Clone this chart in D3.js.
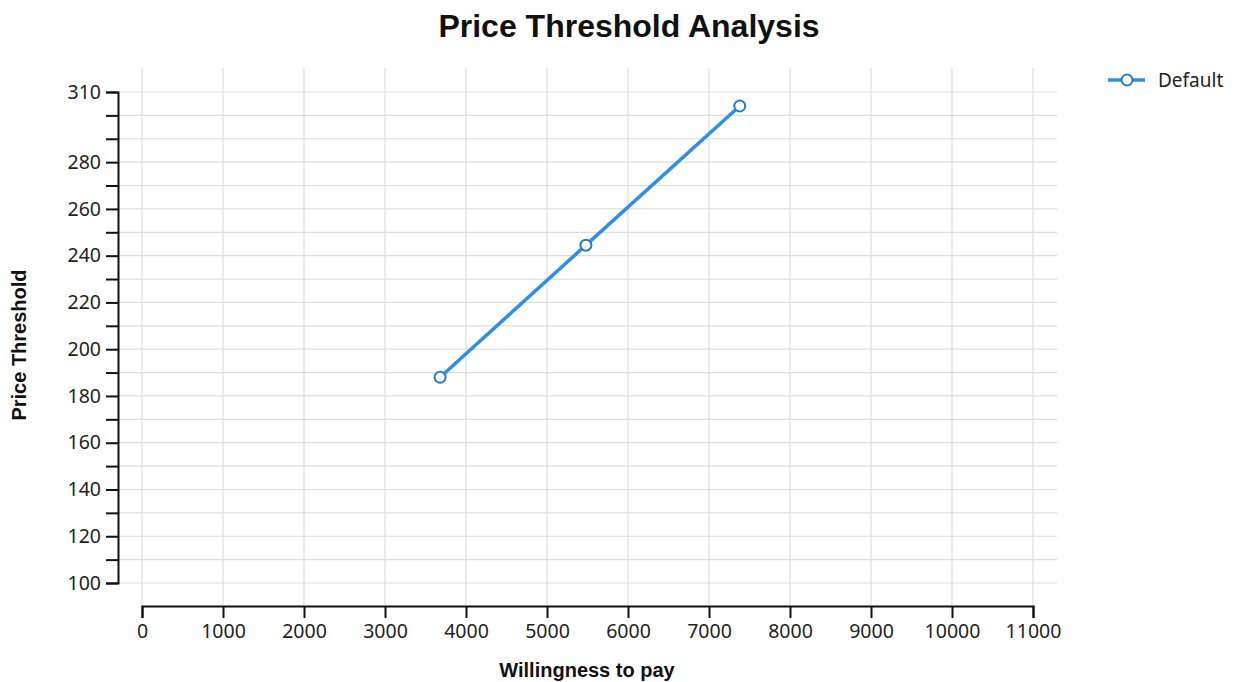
<!DOCTYPE html>
<html>
<head>
<meta charset="utf-8">
<script src="https://cdn.jsdelivr.net/npm/d3@7"></script>
<style>
  body { margin: 0; background: #fff; }
  .tick text { font-family: "Noto Sans", "Open Sans", sans-serif; font-size: 19.5px; fill: #222; }
</style>
</head>
<body>
<script>
"use strict";

const seriesName = "Default";
const willingness = [3680, 5480, 7380];
const threshold = [188, 244.5, 304];
const xTicks = [0, 1000, 2000, 3000, 4000, 5000, 6000, 7000, 8000, 9000, 10000, 11000];
const yLabelTicks = [100, 120, 140, 160, 180, 200, 220, 240, 260, 280, 310];
const yAllTicks = d3.range(100, 311, 10);

let W = 1235, H = 682;
let svg = d3.select("body").append("svg").attr("width", W).attr("height", H);

// plot box
let pLeft = 118, pRight = 1057, pTop = 68, pBottom = 606;
let x = d3.scaleLinear().domain([0, 11000]).range([pLeft + 24, pRight - 24]);
let y = d3.scaleLinear().domain([100, 310]).range([pBottom - 23, pTop + 24]);

// grid
let grid = svg.append("g").attr("stroke", "#ddd").attr("stroke-width", 1.2);
grid.selectAll("line.h").data(yAllTicks).enter().append("line").attr("class", "h")
    .attr("x1", pLeft).attr("x2", pRight)
    .attr("y1", d => y(d)).attr("y2", d => y(d));
grid.selectAll("line.v").data(xTicks).enter().append("line").attr("class", "v")
    .attr("y1", pTop).attr("y2", pBottom)
    .attr("x1", d => x(d)).attr("x2", d => x(d));

// axes
let xAxis = svg.append("g").attr("transform", `translate(0,${pBottom})`)
    .call(d3.axisBottom(x).tickValues(xTicks).tickFormat(d3.format("d")).tickSize(12).tickPadding(6));
let yAxis = svg.append("g").attr("transform", `translate(${pLeft},0)`)
    .call(d3.axisLeft(y).tickValues(yAllTicks)
        .tickFormat(d => yLabelTicks.includes(d) ? d : "").tickSize(12).tickPadding(5));
[xAxis, yAxis].forEach(a => {
    a.select(".domain").attr("stroke", "#111").attr("stroke-width", 2);
    a.selectAll(".tick line").attr("stroke", "#111").attr("stroke-width", 2);
});

// line + markers
let pts = willingness.map((v, i) => [v, threshold[i]]);
svg.append("path").datum(pts)
    .attr("fill", "none").attr("stroke", "#2f8fe8").attr("stroke-width", 3.5)
    .attr("d", d3.line().x(d => x(d[0])).y(d => y(d[1])));
svg.selectAll("circle.pt").data(pts).enter().append("circle").attr("class", "pt")
    .attr("cx", d => x(d[0])).attr("cy", d => y(d[1])).attr("r", 5.5)
    .attr("fill", "#fff").attr("stroke", "#2a7bc4").attr("stroke-width", 2);

// titles
svg.append("text").attr("x", 629).attr("y", 37).attr("text-anchor", "middle")
    .attr("font-family", "Liberation Sans, Arial, sans-serif").attr("font-weight", "bold")
    .attr("font-size", 32).attr("fill", "#111").text("Price Threshold Analysis");
svg.append("text").attr("x", 587).attr("y", 677).attr("text-anchor", "middle")
    .attr("font-family", "Liberation Sans, Arial, sans-serif").attr("font-weight", "bold")
    .attr("font-size", 20).attr("fill", "#111").text("Willingness to pay");
svg.append("text").attr("transform", "translate(26,345) rotate(-90)").attr("text-anchor", "middle")
    .attr("font-family", "Liberation Sans, Arial, sans-serif").attr("font-weight", "bold")
    .attr("font-size", 20).attr("fill", "#111").text("Price Threshold");

// legend
let lg = svg.append("g").attr("transform", "translate(1108,80)");
lg.append("line").attr("x1", 0).attr("x2", 37).attr("stroke", "#2f8fe8").attr("stroke-width", 3.5);
lg.append("circle").attr("cx", 19).attr("r", 5.5).attr("fill", "#fff")
    .attr("stroke", "#2a7bc4").attr("stroke-width", 2);
lg.append("text").attr("x", 50).attr("y", 7).attr("font-family", "Noto Sans, Open Sans, sans-serif")
    .attr("font-size", 19).attr("fill", "#222").text(seriesName);
</script>
</body>
</html>
